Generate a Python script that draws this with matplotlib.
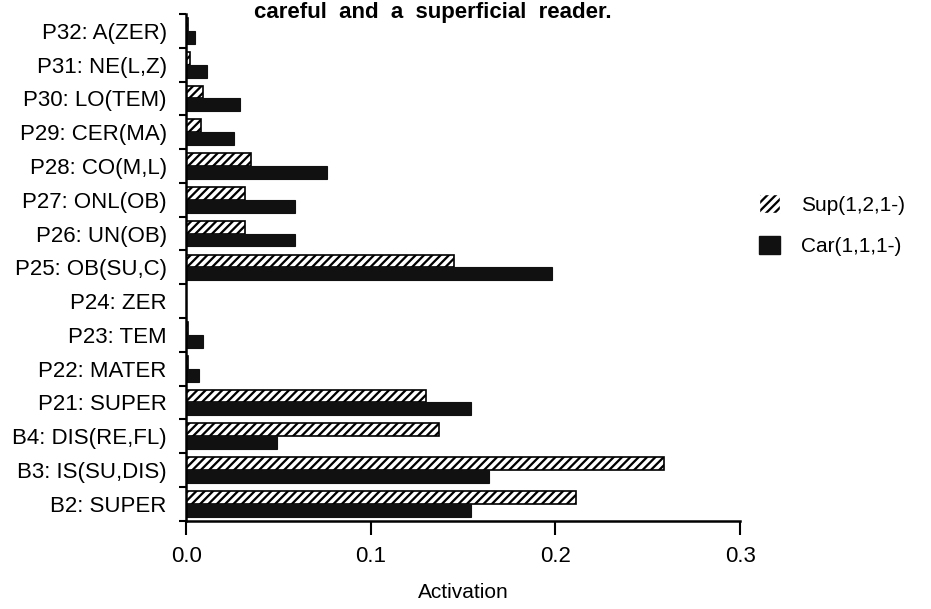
import matplotlib
matplotlib.use('Agg')
from matplotlib import pyplot as plt
from matplotlib.patches import Patch
import numpy as np

plt.rcParams['font.family'] = ['Liberation Sans', 'DejaVu Sans']
plt.rcParams['hatch.linewidth'] = 2.6

# categories from bottom to top
labels = ['B2: SUPER', 'B3: IS(SU,DIS)', 'B4: DIS(RE,FL)', 'P21: SUPER', 'P22: MATER',
          'P23: TEM', 'P24: ZER', 'P25: OB(SU,C)', 'P26: UN(OB)', 'P27: ONL(OB)',
          'P28: CO(M,L)', 'P29: CER(MA)', 'P30: LO(TEM)', 'P31: NE(L,Z)', 'P32: A(ZER)']
sup = [0.211, 0.259, 0.137, 0.130, 0.001, 0.001, 0.0, 0.145, 0.032, 0.032,
       0.035, 0.008, 0.009, 0.002, 0.001]
car = [0.154, 0.164, 0.049, 0.154, 0.007, 0.009, 0.0, 0.198, 0.059, 0.059,
       0.076, 0.026, 0.029, 0.011, 0.005]
series_names = ['Sup(1,2,1-)', 'Car(1,1,1-)']

fig = plt.figure(figsize=(9.31, 6.09), dpi=100)
ax = fig.add_axes([0.2, 0.145, 0.595, 0.832])

y = np.arange(len(labels))
h = 0.38

# hatched bars: black fill with white stripes, then black outline
ax.barh(y + h / 2, sup, height=h, color='black', edgecolor='white', hatch='////', linewidth=0)
ax.barh(y + h / 2, sup, height=h, fill=False, edgecolor='black', linewidth=1.2)
ax.barh(y - h / 2, car, height=h, color='#111111', edgecolor='#111111', linewidth=0.8)

ax.set_xlim(0, 0.3)
ax.set_ylim(-0.5, len(labels) - 0.5)
ax.set_xticks([0.0, 0.1, 0.2, 0.3])
ax.set_xticklabels(['0.0', '0.1', '0.2', '0.3'], fontsize=16)
ax.tick_params(axis='x', direction='out', length=10, width=1.5, pad=8)
ax.set_xlabel('Activation', fontsize=15, labelpad=12)

ax.set_yticks(y)
ax.set_yticklabels(labels, fontsize=16)
ax.set_yticks(np.arange(len(labels) + 1) - 0.5, minor=True)
ax.tick_params(axis='y', which='major', length=0, pad=14)
ax.tick_params(axis='y', which='minor', direction='out', length=5, width=1.5)

for s in ['top', 'right']:
    ax.spines[s].set_visible(False)
ax.spines['left'].set_linewidth(1.8)
ax.spines['bottom'].set_linewidth(1.8)

handles = [Patch(facecolor='black', edgecolor='white', hatch='////'),
           Patch(facecolor='#111111', edgecolor='#111111')]
fig.legend(handles, series_names, loc='center left', bbox_to_anchor=(0.795, 0.63),
           frameon=False, fontsize=15, handlelength=1.0, handleheight=1.0,
           labelspacing=1.0, handletextpad=1.0)

fig.text(0.465, 0.997, 'careful  and  a  superficial  reader.', fontsize=16,
         fontweight='bold', ha='center', va='top')

fig.savefig('out.png', dpi=100)
